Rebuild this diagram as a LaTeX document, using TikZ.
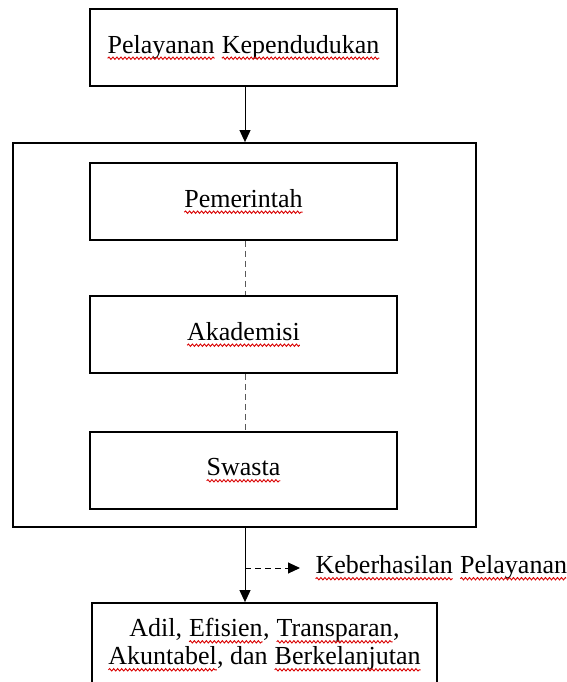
\documentclass[tikz,border=0pt]{standalone}
\usepackage{fontspec}
\setmainfont{Liberation Serif}
\usetikzlibrary{arrows.meta,decorations.pathmorphing}
\tikzset{
  box/.style={draw, line width=1.8pt, minimum width=307pt, minimum height=77pt, inner sep=0pt, font=\fontsize{26}{28}\selectfont},
  outerbox/.style={draw, line width=1.8pt, inner sep=0pt},
  arr/.style={line width=1pt, -{Triangle[width=11pt,length=12pt]}},
  darr/.style={line width=1pt, dash pattern=on 6pt off 4pt, -{Triangle[width=11pt,length=12pt]}},
  dline/.style={line width=1pt, dash pattern=on 6pt off 4pt, draw=black!65},
  sqline/.style={draw=red!85!black, line width=0.9pt, decorate, decoration={snake, amplitude=1.2pt, segment length=4pt}},
  txt/.style={inner sep=0pt, font=\fontsize{26}{28}\selectfont}
}
\newcommand\sqw[1]{\tikz[baseline=(w.base)]{\node[inner sep=0pt,outer sep=0pt,minimum width=0pt,minimum height=0pt,draw=none,rectangle] (w) {#1};\draw[sqline] ([yshift=-5pt]w.base west) -- ([yshift=-5pt]w.base east);}}
\begin{document}
\begin{tikzpicture}[x=1pt,y=-1pt]
\useasboundingbox (0,0) rectangle (566,682);
\begin{scope}
\clip (0,0) rectangle (566,682);
\node[box] (pk) at (243.5,47.5) {\sqw{Pelayanan} \sqw{Kependudukan}};
\node[outerbox, minimum width=463pt, minimum height=384pt] (kol) at (244.5,335) {};
\node[box] (pem) at (243.5,201.5) {\sqw{Pemerintah}};
\node[box] (aka) at (243.5,334.5) {\sqw{Akademisi}};
\node[box] (swa) at (243.5,470.5) {\sqw{Swasta}};
\node[draw, line width=1.8pt, minimum width=345pt, minimum height=100pt, inner sep=0pt] (hasil) at (264.5,653) {};
\node[txt, align=center] (hasiltxt) at (264.5,645) {Adil, \sqw{Efisien}, \sqw{Transparan},\\ \sqw{Akuntabel}, dan \sqw{Berkelanjutan}};
\node[txt, anchor=west] (ket) at (315,568) {\sqw{Keberhasilan} \sqw{Pelayanan}};
\coordinate (br) at (245,568);
\draw[arr] (pk.south -| br) -- (kol.north -| br);
\draw[dline] (pem.south -| br) -- (aka.north -| br);
\draw[dline] (aka.south -| br) -- (swa.north -| br);
\draw[arr] (kol.south -| br) -- (hasil.north -| br);
\draw[darr] (br) -- ([xshift=-15pt]ket.west |- br);
\end{scope}
\end{tikzpicture}
\end{document}
